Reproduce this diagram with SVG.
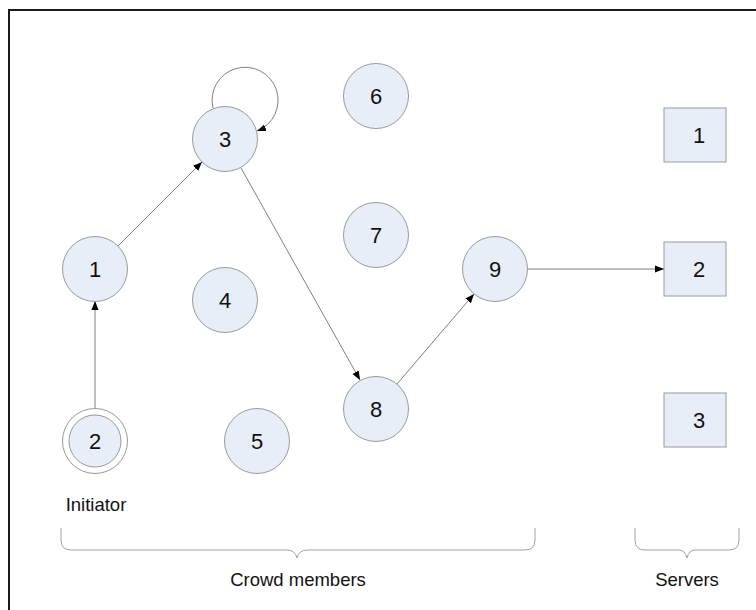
<svg xmlns="http://www.w3.org/2000/svg" width="756" height="610" viewBox="0 0 756 610">
  <style>
    .node circle, .node rect { fill: #e8eef8; stroke: #9a9a9a; stroke-width: 1; }
    .node circle.ring { fill: #fff; }
    .num { font-family: "Liberation Sans", Arial, sans-serif; font-size: 22px; fill: #111; text-anchor: middle; }
    .lbl { font-family: "Liberation Sans", Arial, sans-serif; font-size: 18.5px; fill: #111; text-anchor: middle; }
    .edge { fill: none; stroke: #808080; stroke-width: 1; marker-end: url(#arrow); }
    .brace { fill: none; stroke: #a0a0a0; stroke-width: 1; }
  </style>
  <defs>
    <marker id="arrow" viewBox="0 0 10 10" refX="10" refY="5" markerWidth="9" markerHeight="9" markerUnits="userSpaceOnUse" orient="auto">
      <path d="M0,1 L10,5 L0,9 Z" fill="#000"/>
    </marker>
  </defs>

  <rect width="756" height="610" fill="#fff"/>
  <!-- frame -->
  <rect x="9" y="10" width="780" height="640" fill="none" stroke="#1a1a1a" stroke-width="2"/>

  <!-- connectors -->
  <g id="connectors">
    <line class="edge" x1="95" y1="408" x2="95" y2="301"/>
    <line class="edge" x1="118" y1="246" x2="202" y2="162"/>
    <path class="edge" d="M213,108 A33,33 0 1 1 257,131"/>
    <line class="edge" x1="241" y1="168" x2="360" y2="380"/>
    <line class="edge" x1="397" y1="384" x2="474" y2="294"/>
    <line class="edge" x1="528" y1="269" x2="664" y2="269"/>
  </g>

  <!-- crowd members -->
  <g id="c1" class="node"><circle cx="95" cy="269" r="32.5"/><text class="num" x="95" y="277">1</text></g>
  <g id="c2" class="node"><circle class="ring" cx="95" cy="441" r="32.5"/><circle cx="95" cy="441" r="26"/><text class="num" x="95" y="449">2</text></g>
  <g id="c3" class="node"><circle cx="225" cy="139" r="32.5"/><text class="num" x="225" y="147">3</text></g>
  <g id="c4" class="node"><circle cx="225" cy="300" r="32.5"/><text class="num" x="225" y="308">4</text></g>
  <g id="c5" class="node"><circle cx="257" cy="441" r="32.5"/><text class="num" x="257" y="449">5</text></g>
  <g id="c6" class="node"><circle cx="376" cy="96" r="32.5"/><text class="num" x="376" y="104">6</text></g>
  <g id="c7" class="node"><circle cx="376" cy="235" r="32.5"/><text class="num" x="376" y="243">7</text></g>
  <g id="c8" class="node"><circle cx="376" cy="409" r="32.5"/><text class="num" x="376" y="417">8</text></g>
  <g id="c9" class="node"><circle cx="495" cy="269" r="32.5"/><text class="num" x="495" y="277">9</text></g>

  <!-- servers -->
  <g id="s1" class="node"><rect x="664" y="108" width="62" height="54"/><text class="num" x="699" y="143">1</text></g>
  <g id="s2" class="node"><rect x="664" y="242" width="62" height="54"/><text class="num" x="699" y="277">2</text></g>
  <g id="s3" class="node"><rect x="664" y="393" width="62" height="54"/><text class="num" x="699" y="428">3</text></g>

  <!-- group labels -->
  <text id="initiator" class="lbl" x="96" y="511">Initiator</text>
  <g id="crowd-brace">
    <path class="brace" d="M61,528 V540 Q61,550 71,550 H287 Q295,550 297,558 Q299,550 307,550 H525 Q535,550 535,540 V528"/>
    <text class="lbl" x="298" y="586">Crowd members</text>
  </g>
  <g id="server-brace">
    <path class="brace" d="M635,528 V540 Q635,550 645,550 H679 Q685,550 687,558 Q689,550 695,550 H729 Q739,550 739,540 V528"/>
    <text class="lbl" x="687" y="586">Servers</text>
  </g>
</svg>
